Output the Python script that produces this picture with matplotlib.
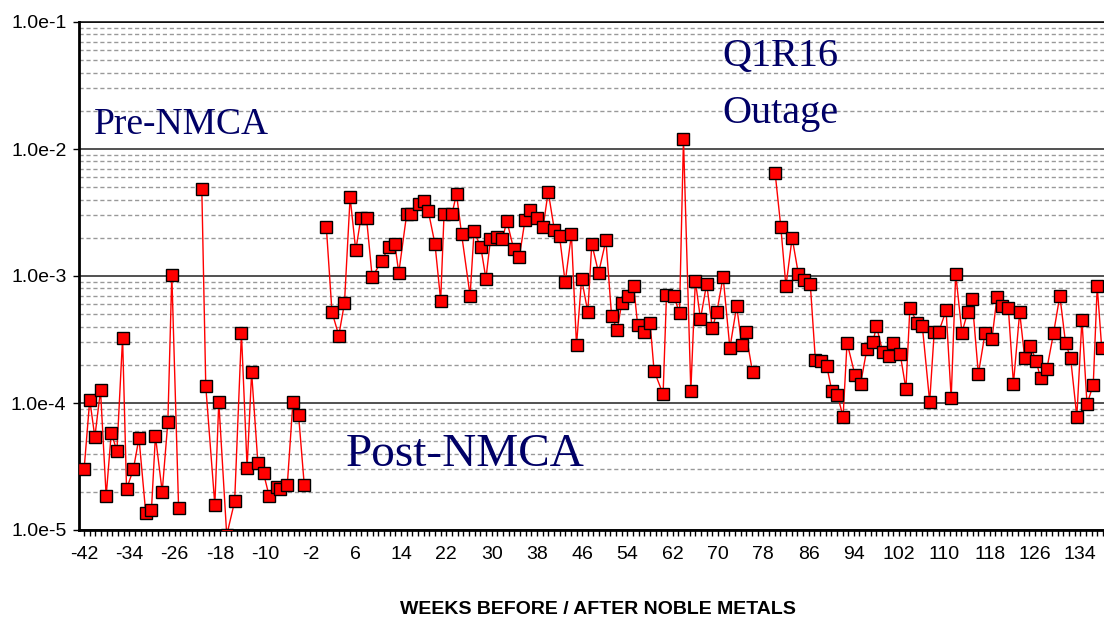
import matplotlib
matplotlib.use("Agg")
import matplotlib.pyplot as plt
import matplotlib.ticker as mticker
import numpy as np

# Pre-NMCA, first block
pre_a_weeks = [-42.0, -41.0, -40.1, -39.1, -38.1, -37.2, -36.2, -35.2, -34.5, -33.3,
               -32.3, -31.1, -30.1, -29.4, -28.2, -27.2, -26.5, -25.3]
pre_a_vals = [3.0e-5, 1.06e-4, 5.4e-5, 1.26e-4, 1.85e-5, 5.8e-5, 4.2e-5, 3.25e-4, 2.1e-5, 3.0e-5,
              5.3e-5, 1.35e-5, 1.44e-5, 5.5e-5, 2.0e-5, 7.1e-5, 1.02e-3, 1.48e-5]

# Pre-NMCA, second block
pre_b_weeks = [-21.2, -20.5, -18.9, -18.2, -16.8, -15.4, -14.2, -13.2, -12.4, -11.3,
               -10.3, -9.3, -8.0, -7.3, -6.1, -5.1, -4.1, -3.1]
pre_b_vals = [4.8e-3, 1.35e-4, 1.57e-5, 1.02e-4, 9.1e-6, 1.68e-5, 3.56e-4, 3.1e-5, 1.74e-4, 3.4e-5,
              2.8e-5, 1.85e-5, 2.2e-5, 2.1e-5, 2.26e-5, 1.02e-4, 8.0e-5, 2.26e-5]

# Post-NMCA, up to the Q1R16 outage
post_a_weeks = [0.8, 1.8, 3.0, 4.0, 5.0, 6.0, 6.9, 7.9, 8.9, 10.6,
                11.8, 12.9, 13.6, 15.0, 15.8, 17.1, 18.0, 18.8, 20.0, 21.0,
                21.6, 23.0, 23.8, 24.7, 26.2, 26.9, 28.1, 29.0, 29.8, 30.9,
                31.9, 32.7, 33.9, 34.9, 35.9, 36.8, 38.0, 39.1, 40.0, 41.1,
                42.0, 43.0, 44.1, 45.0, 45.9, 47.0, 47.7, 48.9, 50.2, 51.2,
                52.2, 53.0, 54.1, 55.1, 55.8, 57.0, 58.0, 58.7, 60.3, 60.9,
                62.2, 63.2, 63.9, 65.2, 66.0, 66.9, 68.0, 69.0, 69.8, 70.9,
                72.1, 73.3, 74.2, 74.9, 76.1]
post_a_vals = [2.42e-3, 5.2e-4, 3.4e-4, 6.1e-4, 4.17e-3, 1.59e-3, 2.86e-3, 2.86e-3, 9.8e-4, 1.32e-3,
               1.68e-3, 1.78e-3, 1.06e-3, 3.08e-3, 3.08e-3, 3.66e-3, 3.9e-3, 3.27e-3, 1.78e-3, 6.4e-4,
               3.08e-3, 3.08e-3, 4.43e-3, 2.13e-3, 7.0e-4, 2.25e-3, 1.68e-3, 9.5e-4, 1.95e-3, 2.02e-3,
               1.95e-3, 2.71e-3, 1.63e-3, 1.41e-3, 2.76e-3, 3.31e-3, 2.88e-3, 2.43e-3, 4.62e-3, 2.29e-3,
               2.06e-3, 8.9e-4, 2.13e-3, 2.85e-4, 9.5e-4, 5.2e-4, 1.79e-3, 1.06e-3, 1.91e-3, 4.84e-4,
               3.76e-4, 6.17e-4, 7.0e-4, 8.3e-4, 4.14e-4, 3.62e-4, 4.29e-4, 1.8e-4, 1.17e-4, 7.1e-4,
               6.96e-4, 5.1e-4, 1.2e-2, 1.24e-4, 9.2e-4, 4.58e-4, 8.7e-4, 3.87e-4, 5.2e-4, 9.9e-4,
               2.7e-4, 5.8e-4, 2.87e-4, 3.62e-4, 1.75e-4]

# Post-NMCA, after the outage
post_b_weeks = [80.1, 81.1, 82.0, 83.1, 84.2, 85.2, 86.3, 87.2, 88.2, 89.2,
                90.1, 91.1, 92.1, 92.8, 94.2, 95.2, 96.3, 97.4, 98.0, 99.1,
                100.3, 101.0, 102.2, 103.2, 103.9, 105.2, 106.1, 107.4, 108.2, 109.0,
                110.3, 111.2, 112.0, 113.1, 114.1, 114.9, 116.0, 117.2, 118.4, 119.3,
                120.1, 121.3, 122.2, 123.3, 124.2, 125.2, 126.2, 127.0, 128.1, 129.3,
                130.4, 131.4, 132.3, 133.4, 134.3, 135.2, 136.3, 137.0, 137.8]
post_b_vals = [6.44e-3, 2.43e-3, 8.3e-4, 2.0e-3, 1.04e-3, 9.3e-4, 8.7e-4, 2.2e-4, 2.14e-4, 1.97e-4,
               1.25e-4, 1.16e-4, 7.8e-5, 2.99e-4, 1.66e-4, 1.42e-4, 2.65e-4, 3.04e-4, 4.04e-4, 2.51e-4,
               2.36e-4, 2.98e-4, 2.42e-4, 1.29e-4, 5.57e-4, 4.29e-4, 4.04e-4, 1.02e-4, 3.62e-4, 3.62e-4,
               5.37e-4, 1.09e-4, 1.04e-3, 3.58e-4, 5.18e-4, 6.55e-4, 1.69e-4, 3.58e-4, 3.18e-4, 6.87e-4,
               5.8e-4, 5.57e-4, 1.42e-4, 5.18e-4, 2.25e-4, 2.82e-4, 2.14e-4, 1.57e-4, 1.85e-4, 3.58e-4,
               7.0e-4, 2.98e-4, 2.26e-4, 7.8e-5, 4.53e-4, 9.8e-5, 1.39e-4, 8.3e-4, 2.7e-4]

SEGMENTS = [(pre_a_weeks, pre_a_vals), (pre_b_weeks, pre_b_vals),
            (post_a_weeks, post_a_vals), (post_b_weeks, post_b_vals)]

x_tick_labels = list(range(-42, 135, 8))

plt.rcParams['font.family'] = ['Liberation Sans', 'DejaVu Sans']
plt.rcParams['axes.unicode_minus'] = False

fig = plt.figure(figsize=(11.04, 6.21), dpi=100)
ax = fig.add_axes([79 / 1104, 91 / 621, (1104 - 79) / 1104, 508 / 621])

for weeks, vals in SEGMENTS:
    ax.plot(weeks, vals, color="red", lw=1, marker="s", ms=8,
            mfc="red", mec="black", mew=1, zorder=3)

ax.set_yscale("log")
ax.set_ylim(1e-5, 1e-1)
ax.set_xlim(-42.9, 138.2)

ax.xaxis.set_major_locator(mticker.FixedLocator(x_tick_labels))
ax.xaxis.set_minor_locator(mticker.MultipleLocator(1))
ax.yaxis.set_major_locator(mticker.LogLocator(base=10, numticks=10))
ax.yaxis.set_minor_locator(mticker.LogLocator(base=10, subs=np.arange(2, 10), numticks=20))
ax.yaxis.set_major_formatter(mticker.FuncFormatter(lambda v, p: "1.0e%d" % round(np.log10(v))))
ax.yaxis.set_minor_formatter(mticker.NullFormatter())

ax.tick_params(axis="x", which="both", direction="out", length=4.5, width=1, pad=7, labelsize=14)
ax.tick_params(axis="y", which="major", direction="out", length=4, width=1, pad=5, labelsize=14)
ax.tick_params(axis="y", which="minor", length=0)

ax.yaxis.grid(True, which="major", color="#222222", lw=1.1, ls="-")
ax.yaxis.grid(True, which="minor", color="#999999", lw=1, ls=(0, (3, 2)))
ax.set_axisbelow(True)

ax.spines["right"].set_visible(False)
ax.spines["left"].set_linewidth(2)
ax.spines["bottom"].set_linewidth(2)
ax.spines["top"].set_linewidth(1.1)

fig.text(598 / 1104, 1 - 610 / 621, "WEEKS BEFORE / AFTER NOBLE METALS",
         ha="center", va="center", fontsize=14, fontweight="bold")

note_style = dict(family=["Liberation Serif", "DejaVu Serif"], color="#000066",
                  ha="center", va="center", transform=None)
ax.text(181, 621 - 125, "Pre-NMCA", fontsize=27, **note_style)
ax.text(780, 621 - 56, "Q1R16", fontsize=29, **note_style)
ax.text(780, 621 - 113, "Outage", fontsize=29, **note_style)
ax.text(465, 621 - 455, "Post-NMCA", fontsize=34, **note_style)

fig.savefig("out.png", dpi=100)
